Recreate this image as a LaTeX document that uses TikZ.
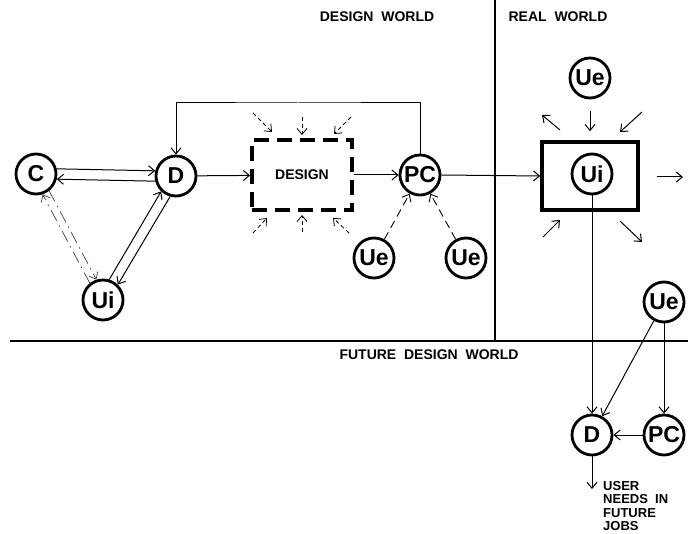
\documentclass[tikz,border=0pt]{standalone}
\usepackage{fontspec}
\setmainfont{Liberation Sans}
\usetikzlibrary{arrows.meta,calc}

\begin{document}
\begin{tikzpicture}[
    x=1pt, y=-1pt,
    >={Straight Barb[length=6pt,width=10pt]},
    unit/.style={
        circle,
        draw,
        line width=2.8pt,
        minimum size=40pt,
        inner sep=0pt,
        font=\fontsize{23}{23}\selectfont\bfseries
    },
    designbox/.style={
        draw,
        line width=3.8pt,
        dash pattern=on 15pt off 8pt,
        minimum width=100pt,
        minimum height=70pt,
        font=\fontsize{14}{14}\selectfont\bfseries
    },
    realbox/.style={
        draw,
        line width=3.6pt,
        minimum width=96pt,
        minimum height=68pt
    },
    world/.style={
        font=\fontsize{14}{14}\selectfont\bfseries
    },
    link/.style={
        ->,
        line width=1pt
    },
    hint/.style={
        ->,
        line width=0.8pt,
        dash pattern=on 4pt off 3pt
    },
    guess/.style={
        ->,
        line width=0.9pt,
        dash pattern=on 8pt off 5pt
    },
    vague/.style={
        ->,
        line width=0.7pt,
        black!75,
        dash pattern=on 12pt off 5pt on 1.5pt off 5pt
    },
    divider/.style={
        line width=2.2pt
    }
]

    \useasboundingbox (0,0) rectangle (688,534);

    % world borders
    \coordinate (vtop) at (495,0);
    \coordinate (vbot) at (495,341);
    \coordinate (hleft) at (10,341);
    \coordinate (hright) at (688,341);
    \draw[divider] (vtop) -- (vbot);
    \draw[divider] (hleft) -- (hright);

    \node[world] (designworld) at (377,17) {DESIGN~~WORLD};
    \node[world] (realworld) at (558,17) {REAL~~WORLD};
    \node[world] (futureworld) at (429,355) {FUTURE~~DESIGN~~WORLD};

    % design world
    \node[unit] (C) at (36,174) {C};
    \node[unit] (D) at (176,176) {D};
    \node[unit] (Ui) at (103,300) {Ui};
    \node[designbox] (design) at (302,175) {DESIGN};
    \node[unit] (PC) at (420,175) {PC};
    \node[unit] (Ue1) at (374,258) {Ue};
    \node[unit] (Ue2) at (466,258) {Ue};

    \draw[link] (C.14) -- (D.166);
    \draw[link] (D.194) -- (C.346);
    \draw[link] (Ui.73) -- (D.226);
    \draw[link] (D.254) -- (Ui.46);
    \draw[vague] (C.-52) -- (Ui.108);
    \draw[vague] (Ui.128) -- (C.-72);

    \draw[link] (D) -- (design);
    \draw[link] (design) -- (PC);
    \coordinate (loop) at (298,103);
    \draw[link] (PC.north) |- (loop) -| (D.north);
    \draw[guess] (Ue1) -- (PC);
    \draw[guess] (Ue2) -- (PC);

    \foreach \sx/\sy/\ex/\ey in {-49/-62/-30/-43, 0/-58/0/-40, 49/-58/32/-41,
                                 -49/58/-35/43, 0/57/0/40, 47/58/31/43}
        \draw[hint] ($(design)+(\sx,\sy)$) -- ($(design)+(\ex,\ey)$);

    % real world
    \node[realbox] (real) at (590,176) {};
    \node[unit] (Ui2) at (592,174) {Ui};
    \node[unit] (Ue3) at (590,78) {Ue};

    \draw[link] (PC.east) -- (real.west);
    \draw[link] ($(Ue3.south)+(0,12)$) -- ($(real.north)+(0,-9)$);
    \foreach \sx/\sy/\ex/\ey in {-30/-46/-48/-61, 52/-64/30/-44,
                                 -47/61/-30/44, 30/45/52/66}
        \draw[link] ($(real)+(\sx,\sy)$) -- ($(real)+(\ex,\ey)$);
    \coordinate (outright) at (683,177);
    \draw[link] ($(real.east)+(17,1)$) -- (outright);

    % future design world
    \node[unit] (Ue4) at (664,302) {Ue};
    \node[unit] (D2) at (592,435) {D};
    \node[unit] (PC2) at (664,435) {PC};

    \draw[link] (Ui2.south) -- (D2.north);
    \draw[link] (Ue4) -- (D2);
    \draw[link] (Ue4.south) -- (PC2.north);
    \draw[link] (PC2) -- (D2);

    \coordinate (needsend) at (592,489);
    \draw[link] (D2.south) -- (needsend);
    \node[anchor=north west, align=left, inner sep=0pt,
          font=\fontsize{13}{13.5}\selectfont\bfseries] (needs) at (603,481)
        {USER\\NEEDS~~IN\\FUTURE\\JOBS};

\end{tikzpicture}
\end{document}
